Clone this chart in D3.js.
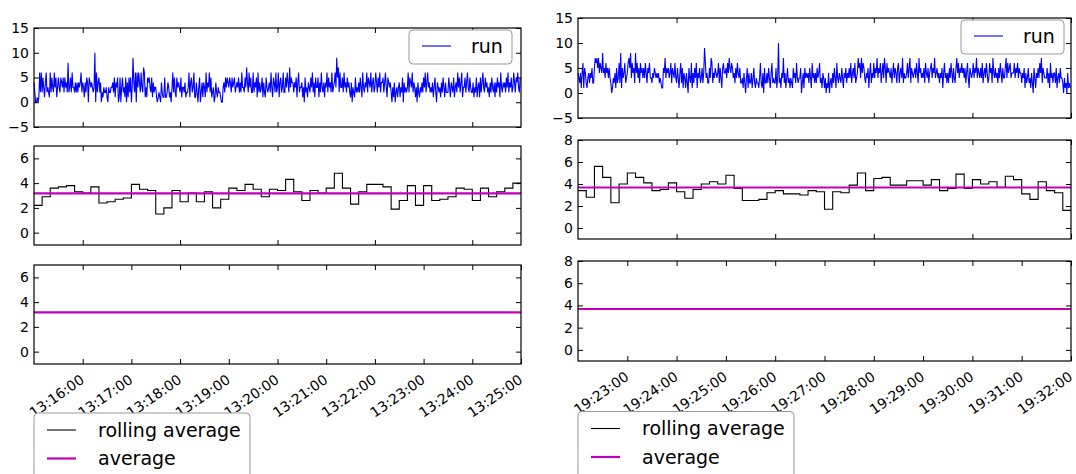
<!DOCTYPE html>
<meta charset="utf-8">
<html>
<head>
  <title>run / rolling average</title>
  <style>
    body { margin: 0; background: #fff; }
    text { font-family: "DejaVu Sans", sans-serif; }
  </style>
</head>
<body>

  <svg id="chart" width="1076" height="474"></svg>

  <script src="https://d3js.org/d3.v7.min.js"></script>
  <script>

    // ---- data: one value per second, 10 minutes per figure ----
    var startLeft = "13:15:00"
    var startRight = "19:22:00"

    var runLeft = [
      4,2,0,0,1,0,1,6,2,6,  2,5,3,1,4,6,2,3,2,1,  6,2,5,3,2,6,3,5,1,3,  5,3,2,5,4,3,5,2,5,3,
      4,2,8,2,3,5,2,6,3,3,  2,4,2,4,2,4,3,4,6,2,  4,3,1,4,2,5,4,0,5,4,  3,4,3,2,3,10,0,6,2,4,
      5,2,4,0,2,1,3,2,2,3,  1,0,3,2,2,3,3,4,2,5,  1,4,3,5,0,1,5,0,3,5,  2,3,1,5,0,4,1,5,2,5,
      0,3,9,4,2,6,0,6,3,6,  4,2,6,3,2,7,6,1,3,1,  5,4,5,3,2,5,1,4,2,3,  3,1,0,1,2,1,0,4,2,1,
      1,5,1,1,2,4,3,1,2,0,  3,6,2,5,2,1,5,3,4,3,  2,5,1,3,3,2,4,1,2,2,  3,6,1,4,5,2,3,6,1,1,
      4,2,0,3,5,0,2,4,1,4,  3,1,6,2,4,3,6,2,5,1,  2,3,0,1,4,2,1,3,2,2,  1,0,0,3,4,2,5,3,5,4,
      3,5,4,2,5,3,4,5,2,3,  4,3,5,2,4,2,6,3,3,2,  5,3,7,4,2,6,3,5,2,2,  6,2,4,3,5,1,6,2,4,2,
      3,5,1,4,2,1,5,3,2,3,  4,2,6,3,1,5,4,2,6,2,  3,6,1,4,5,2,3,6,2,2,  5,3,6,4,2,7,3,5,4,4,
      2,4,3,5,1,4,6,2,3,3,  4,1,3,0,5,2,3,1,4,3,  2,5,3,6,2,4,1,5,3,3,  5,1,4,2,6,3,2,4,1,4,
      3,6,2,5,3,4,2,6,2,3,  4,6,3,9,5,7,2,6,3,3,  5,2,6,3,4,2,5,3,4,2,  1,4,0,3,2,1,5,2,3,2,
      4,2,5,3,1,6,3,2,4,3,  6,2,5,4,3,6,2,4,5,2,  3,6,4,2,5,3,6,2,4,4,  5,2,4,6,3,1,5,4,3,4,
      2,0,3,1,4,0,2,3,1,3,  4,1,3,2,5,0,4,2,3,2,  3,6,2,5,4,3,6,2,4,3,  1,3,0,4,2,1,3,2,4,2,
      5,3,6,2,4,6,3,4,2,3,  2,4,1,3,5,2,0,4,3,2,  3,1,4,2,5,3,1,4,2,2,  2,5,3,1,4,3,2,5,1,3,
      4,2,6,3,5,2,4,6,1,3,  3,5,2,4,6,3,2,5,3,2,  2,4,1,3,2,5,1,3,4,1,  5,2,4,6,3,2,5,3,4,2,
      3,1,4,2,5,3,2,4,1,4,  2,5,3,4,1,6,3,2,4,3,  4,2,5,3,6,2,4,3,5,2,  3,6,4,2,5,4,6,3,2,5
    ]

    // 10 second means
    var rollLeft = [
      2.2, 2.9, 3.6, 3.7, 3.8, 3.3, 3.2, 3.7, 2.4, 2.5,
      2.7, 2.8, 3.9, 3.5, 3.4, 1.5, 2.0, 3.4, 2.5, 3.2,
      2.5, 3.3, 2.0, 2.7, 3.6, 3.4, 3.9, 3.5, 2.9, 3.5,
      3.4, 4.3, 3.3, 2.6, 3.4, 3.2, 3.6, 4.8, 3.6, 2.3,
      3.3, 3.9, 3.9, 3.7, 1.9, 2.6, 3.8, 2.2, 3.8, 2.6,
      2.7, 2.9, 3.6, 3.5, 2.6, 3.6, 2.9, 3.3, 3.6, 4.0
    ]
    var avgLeft = 3.17

    var runRight = [
      4,3,2,4,1,4,6,1,5,4,  2,1,3,4,2,4,3,5,2,2,  5,7,6,7,5,7,4,6,5,4,  8,4,5,3,6,4,5,3,5,3,
      2,0,1,3,2,4,1,5,2,3,  6,2,8,1,5,3,4,6,2,3,  4,6,7,5,8,3,6,4,5,2,  8,4,6,3,5,2,6,4,5,3,
      5,3,6,4,2,5,4,6,3,3,  2,4,3,5,4,3,4,3,4,2,  3,2,1,1,5,4,7,3,5,4,  5,3,4,6,2,5,4,3,6,3,
      2,5,3,1,4,6,2,5,1,4,  3,1,4,2,0,5,3,2,6,1,  4,2,5,3,6,1,4,3,5,2,  3,5,2,4,9,6,3,4,2,2,
      5,3,7,6,2,4,3,5,4,3,  4,6,2,5,3,1,5,6,4,4,  5,3,6,4,7,5,4,6,5,3,  4,2,5,3,6,4,3,5,2,2,
      3,1,4,2,0,3,5,1,4,2,  2,4,1,3,5,2,1,3,2,2,  1,3,6,2,1,4,0,5,2,2,  4,2,5,3,1,4,6,2,3,2,
      2,5,1,3,10,2,3,1,4,3, 7,2,4,1,3,5,2,3,1,3,  2,1,5,3,4,2,6,3,2,3,  3,5,0,2,4,1,5,3,4,3,
      4,2,5,3,1,6,3,4,2,4,  2,5,3,4,6,2,3,1,4,3,  1,3,0,2,1,4,0,2,3,1,  4,2,5,3,1,6,3,2,4,3,
      2,5,3,1,4,3,5,2,4,3,  5,3,6,2,4,5,3,6,2,3,  4,7,5,6,3,7,4,6,5,3,  2,4,3,5,1,4,6,2,4,3,
      6,3,5,4,7,3,5,4,6,2,  4,6,3,7,5,2,6,4,5,4,  3,5,2,4,6,3,5,4,2,5,  6,2,4,5,3,7,2,4,3,3,
      4,6,3,5,7,2,5,4,3,4,  5,3,6,4,2,7,4,5,3,4,  3,5,2,6,4,3,5,2,4,5,  6,3,5,4,7,3,4,5,3,4,
      2,4,3,5,1,4,6,3,4,2,  4,2,5,3,6,4,2,5,3,2,  5,7,4,6,3,5,4,6,4,5,  3,5,2,4,6,3,1,5,4,3,
      4,6,3,5,4,7,3,5,4,3,  5,3,6,2,4,5,3,6,4,2,  3,6,4,5,2,7,4,3,5,3,  4,2,5,3,6,4,2,5,3,3,
      5,7,3,6,4,5,6,3,4,4,  4,6,3,5,4,6,3,5,4,4,  2,4,3,5,1,4,2,3,5,2,  3,1,4,2,0,5,3,1,4,3,
      5,3,6,4,7,2,5,4,3,3,  3,5,2,4,1,6,3,4,2,4,  4,2,5,1,3,4,2,5,3,3,  2,0,3,1,2,0,4,1,2,1
    ]

    var rollRight = [
      3.4, 2.8, 5.6, 4.6, 2.3, 4.0, 5.0, 4.6, 4.1, 3.4,
      3.5, 4.1, 3.3, 2.7, 3.5, 4.0, 4.2, 4.0, 4.8, 3.6,
      2.5, 2.5, 2.6, 3.2, 3.4, 3.1, 3.1, 3.0, 3.4, 3.3,
      1.7, 3.3, 3.2, 3.9, 5.0, 3.4, 4.5, 4.6, 3.9, 3.9,
      4.3, 4.3, 3.9, 4.4, 3.4, 3.6, 4.9, 3.6, 4.4, 4.0,
      4.2, 3.7, 4.7, 4.4, 3.1, 2.6, 4.2, 3.4, 3.2, 1.6
    ]
    var avgRight = 3.68

    var topTicks = [-5, 0, 5, 10, 15]
    var ticksLeft = [0, 2, 4, 6]
    var ticksRight = [0, 2, 4, 6, 8]

    // ---- drawing ----
    var svg = d3.select("#chart")
    var tick = 5

    function drawFigure(f) {
      var t0 = new Date("2000-01-01T" + f.start + "Z")
      var t1 = d3.utcMinute.offset(t0, 10)
      var x = d3.scaleUtc().domain([t0, t1]).range([f.x0, f.x1])
      var sec = function (i) { return d3.utcSecond.offset(t0, i) }

      f.panels.forEach(function (p, pi) {
        var y = d3.scaleLinear().domain(p.domain).range([p.bottom, p.top])
        var g = svg.append("g")
        var every = pi == 2 ? 1 : 2

        // series
        if (p.kind == "run") {
          g.append("path")
            .datum(f.run)
            .attr("fill", "none")
            .attr("stroke", "#0000ff")
            .attr("stroke-width", 1.1)
            .attr("d", d3.line()
              .x(function (d, i) { return x(sec(i)) })
              .y(function (d) { return y(d) }))
        }
        if (p.kind == "roll") {
          var pts = f.roll.map(function (v, i) { return [sec(i * 10), v] })
          pts.push([t1, f.roll[f.roll.length - 1]])
          g.append("path")
            .datum(pts)
            .attr("fill", "none")
            .attr("stroke", "#000")
            .attr("stroke-width", 1.1)
            .attr("d", d3.line().curve(d3.curveStepAfter)
              .x(function (d) { return x(d[0]) })
              .y(function (d) { return y(d[1]) }))
        }
        if (p.kind != "run") {
          g.append("line")
            .attr("x1", x(t0)).attr("x2", x(t1))
            .attr("y1", y(f.avg)).attr("y2", y(f.avg))
            .attr("stroke", "#bf00bf")
            .attr("stroke-width", 2.2)
        }

        // axes, ticks pointing inwards on all four sides
        var left = g.append("g").attr("transform", "translate(" + f.x0 + ",0)")
          .call(d3.axisLeft(y).tickValues(p.ticks).tickSize(-tick).tickPadding(5))
        var right = g.append("g").attr("transform", "translate(" + f.x1 + ",0)")
          .call(d3.axisRight(y).tickValues(p.ticks).tickSize(-tick).tickFormat(""))
        var xt = x.ticks(d3.utcMinute.every(every)).filter(function (d) { return +d > +t0 })
        var top = g.append("g").attr("transform", "translate(0," + p.top + ")")
          .call(d3.axisTop(x).tickValues(xt).tickSize(-tick).tickFormat(""))
        var bottom = g.append("g").attr("transform", "translate(0," + p.bottom + ")")
          .call(d3.axisBottom(x).tickValues(xt).tickSize(-tick)
            .tickFormat(pi == 2 ? d3.utcFormat("%H:%M:%S") : ""))

        ;[left, right, top, bottom].forEach(function (a) {
          a.select(".domain").remove()
          a.selectAll("line").attr("stroke", "#000")
        })
        left.selectAll("text").style("font-size", "14px").attr("fill", "#000")

        if (pi == 2) {
          bottom.selectAll("text")
            .style("font-size", "14px")
            .attr("fill", "#000")
            .attr("text-anchor", "end")
            .attr("y", 0).attr("dy", 0)
            .attr("transform", "translate(2,18) rotate(-35)")
        }

        // frame
        g.append("rect")
          .attr("x", f.x0).attr("y", p.top)
          .attr("width", f.x1 - f.x0).attr("height", p.bottom - p.top)
          .attr("fill", "none").attr("stroke", "#000").attr("stroke-width", 1.2)

        // legend for the run panel
        if (p.kind == "run") {
          var lx = f.x1 - f.runLegend[0], ly = p.top + f.runLegend[1]
          var lg = g.append("g").attr("transform", "translate(" + lx + "," + ly + ")")
          lg.append("rect").attr("width", 103).attr("height", 34).attr("rx", 4)
            .attr("fill", "#fff").attr("stroke", "#999").attr("stroke-width", 1)
          lg.append("line").attr("x1", 13).attr("x2", 42).attr("y1", 16).attr("y2", 16)
            .attr("stroke", "#0000ff").attr("stroke-width", 1.1)
          lg.append("text").attr("x", 62).attr("y", 16).attr("dy", "0.36em")
            .style("font-size", "19px").text("run")
        }
      })

      // legend under the bottom panel
      var items = [
        { label: "rolling average", color: "#000", w: 1.1 },
        { label: "average", color: "#bf00bf", w: 2.2 }
      ]
      var lg = svg.append("g").attr("transform", "translate(" + f.x0 + "," + f.legendTop + ")")
      lg.append("rect").attr("width", 216).attr("height", 80).attr("rx", 4)
        .attr("fill", "#fff").attr("stroke", "#999").attr("stroke-width", 1)
      items.forEach(function (it, i) {
        var yy = 17 + i * 28.5
        lg.append("line").attr("x1", 13).attr("x2", 42).attr("y1", yy).attr("y2", yy)
          .attr("stroke", it.color).attr("stroke-width", it.w)
        lg.append("text").attr("x", 64).attr("y", yy).attr("dy", "0.36em")
          .style("font-size", "19px").text(it.label)
      })
    }

    drawFigure({
      start: startLeft, run: runLeft, roll: rollLeft, avg: avgLeft,
      x0: 34, x1: 521, legendTop: 413, runLegend: [112, 2],
      panels: [
        { kind: "run", top: 28, bottom: 127, domain: [-5, 15], ticks: topTicks },
        { kind: "roll", top: 146, bottom: 245, domain: [-1, 7], ticks: ticksLeft },
        { kind: "avg", top: 265, bottom: 364, domain: [-1, 7], ticks: ticksLeft }
      ]
    })

    drawFigure({
      start: startRight, run: runRight, roll: rollRight, avg: avgRight,
      x0: 578, x1: 1071, legendTop: 411.5, runLegend: [110, 2],
      panels: [
        { kind: "run", top: 18, bottom: 118, domain: [-5, 15], ticks: topTicks },
        { kind: "roll", top: 140, bottom: 239, domain: [-1, 8], ticks: ticksRight },
        { kind: "avg", top: 261, bottom: 361, domain: [-1, 8], ticks: ticksRight }
      ]
    })

  </script>
</body>
</html>
